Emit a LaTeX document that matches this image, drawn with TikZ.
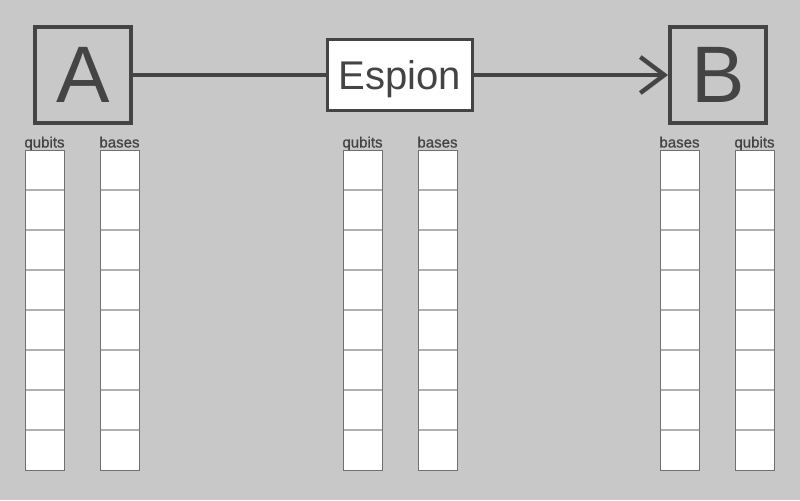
\documentclass[tikz,border=0pt]{standalone}
\usepackage{fontspec}
\setmainfont{Liberation Sans}
\newfontfamily\etiqfont{Liberation Sans}[FakeBold=0.8]
\usetikzlibrary{arrows.meta}
\definecolor{fond}{HTML}{C8C8C8}
\definecolor{encre}{HTML}{444444}
\definecolor{bord}{HTML}{707070}
\definecolor{trait}{HTML}{B0B0B0}

\begin{document}
\begin{tikzpicture}[x=0.025cm,y=-0.025cm]
        \tikzset{partie/.style={draw=encre,line width=0.11cm,minimum size=2.39cm,inner sep=0pt,
                text=encre,font=\fontsize{57}{57}\selectfont},
            espion/.style={draw=encre,line width=0.075cm,fill=white,minimum width=3.625cm,
                minimum height=1.775cm,inner sep=0pt,text=encre,text depth=0pt,
                font=\fontsize{28.5}{28.5}\selectfont},
            lien/.style={draw=encre,line width=0.11cm},
            etiquette/.style={anchor=base,inner sep=0pt,text=encre,font=\etiqfont\fontsize{10.7}{10.7}\selectfont},
            colonne/.style={draw=bord,line width=0.025cm},
            case/.style={draw=trait,line width=0.03cm}}
        \fill[fond] (0,0) rectangle (800,500);
        \node[partie] (A) at (83,75) {A};
        \node[espion] (E) at (400,75) {Espion};
        \node[partie] (B) at (718,75) {B};
        \draw[lien] (A) -- (E);
        \draw[lien,-{Straight Barb[length=0.6cm,width=0.9cm]}] (E) -- (B);
        \foreach \x/\nom in {25/qubits,100/bases,343/qubits,418/bases,660/bases,735/qubits} {
            \node[etiquette] (t\x) at (\x+19.5,147.5) {\nom};
            \fill[white] (\x,150) rectangle (\x+39,470);
            \foreach \i in {1,...,7}
                \draw[case] (\x,150+40*\i) -- (\x+39,150+40*\i);
            \draw[colonne] (\x,150) rectangle (\x+39,470);
        }
    \end{tikzpicture}
\end{document}
